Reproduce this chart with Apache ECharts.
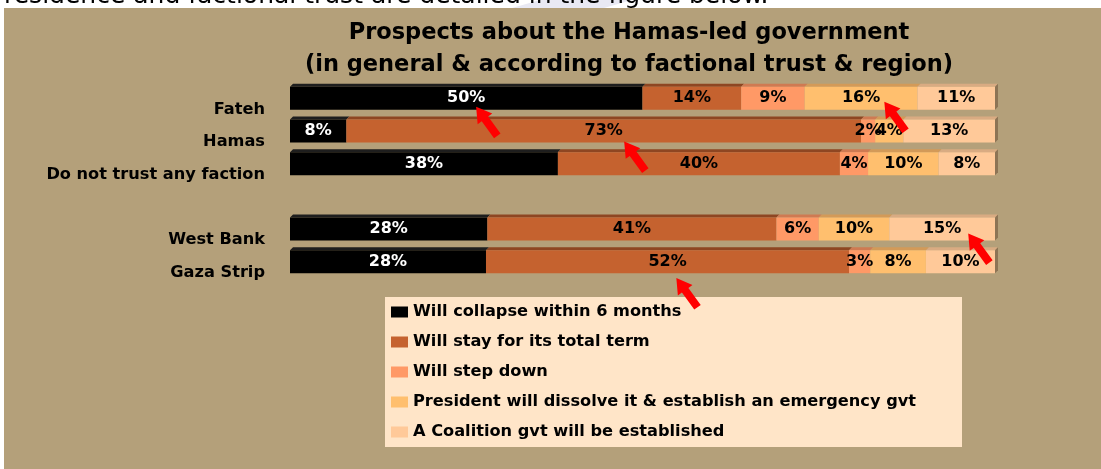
<!DOCTYPE html>
<html>
<head>
<meta charset="utf-8">
<title>Prospects about the Hamas-led government</title>
<script src="https://cdn.jsdelivr.net/npm/echarts@6/dist/echarts.min.js"></script>
<style>
  html, body { margin: 0; padding: 0; background: #ffffff; }
  #chart { width: 1101px; height: 469px; }
</style>
</head>
<body>
<div id="chart"></div>
<script>
// categories (blank one is the gap between trust and region groups)
const categories = ['Fateh', 'Hamas', 'Do not trust any faction', '', 'West Bank', 'Gaza Strip']

const seriesNames = [
  'Will collapse within 6 months',
  'Will stay for its total term',
  'Will step down',
  'President will dissolve it & establish an emergency gvt',
  'A Coalition gvt will be established',
]

// percentages
const collapse  = [50, 8, 38, null, 28, 27.8]
const stay      = [14, 73, 40, null, 41, 51.5]
const stepDown  = [9, 2, 4, null, 6, 3.0]
const dissolve  = [16, 4, 10, null, 10, 7.9]
const coalition = [11, 13, 8, null, 15, 9.8]

const allValues = [collapse, stay, stepDown, dissolve, coalition]

const colors = ['#000000', '#c5622f', '#ff9966', '#ffbf6e', '#ffc999']
const topShade = ['#1e1e1e', '#8e4622', '#cf7a52', '#d39a58', '#d9ab82']
const labelColors = ['#ffffff', '#000000', '#000000', '#000000', '#000000']

const FONT = '"DejaVu Sans", "Liberation Sans", Arial, sans-serif'
const BAR_H = 23

// red annotation arrows: [x value, category, extra y offset in px]
const arrows = [
  [27.9, 'Fateh', 23],
  [85.8, 'Fateh', 18],
  [48.9, 'Hamas', 25],
  [97.7, 'West Bank', 19],
  [56.3, 'Gaza Strip', 31],
]
const arrowPath = 'path://M9,0 L18,15 L13,15 L13,36 L5,36 L5,15 L0,15 Z'

const chart = echarts.init(document.getElementById('chart'))

const barSeries = allValues.map((arr, k) => ({
  name: seriesNames[k],
  type: 'bar',
  stack: 'total',
  barWidth: BAR_H,
  data: arr,
  itemStyle: { color: colors[k] },
  label: {
    show: true,
    position: 'inside',
    color: labelColors[k],
    fontFamily: FONT,
    fontWeight: 'bold',
    fontSize: 16,
    formatter: (p) => Math.round(p.value) + '%',
  },
  z: 3,
}))

barSeries[0].markPoint = {
  symbol: arrowPath,
  symbolSize: [18, 36],
  symbolRotate: 36,
  itemStyle: { color: '#ff0000' },
  label: { show: false },
  z: 10,
  data: arrows.map(a => ({ coord: [a[0], a[1]], symbolOffset: [0, a[2]] })),
}

// 3D-ish top face and right end face drawn like the old Excel bars
const bevelSeries = {
  name: 'bevel',
  type: 'custom',
  silent: true,
  encode: { x: 0, y: 1 },
  data: categories.map((c, i) => [0, i]).filter(d => collapse[d[1]] != null),
  renderItem: (params, api) => {
    const i = api.value(1)
    const cy = api.coord([0, i])[1]
    const yTop = cy - BAR_H / 2
    const yBot = cy + BAR_H / 2
    const d = 3
    let acc = 0
    const children = []
    allValues.forEach((arr, k) => {
      const v = arr[i]
      if (v == null) return
      const x0 = api.coord([acc, i])[0]
      acc += v
      const x1 = api.coord([acc, i])[0]
      children.push({
        type: 'polygon',
        shape: { points: [[x0, yTop], [x1, yTop], [x1 + d, yTop - d], [x0 + d, yTop - d]] },
        style: { fill: topShade[k] },
      })
    })
    const xe = api.coord([acc, i])[0]
    children.push({
      type: 'polygon',
      shape: { points: [[xe, yTop], [xe + d, yTop - d], [xe + d, yBot - d], [xe, yBot]] },
      style: { fill: '#8d7455' },
    })
    return { type: 'group', children }
  },
  z: 2,
}

const option = {
  backgroundColor: '#ffffff',
  animation: false,
  graphic: [
    {
      type: 'polygon',
      shape: { points: [[512, 8], [540, 0], [632, 0], [604, 8]] },
      style: { fill: '#e9e9f3' },
      z: -95,
    },
    {
      type: 'text',
      left: 4,
      top: -16,
      z: -90,
      style: {
        text: 'residence and factional trust are detailed in the figure below.',
        fill: '#000000',
        font: '25px ' + FONT,
      },
    },
    {
      type: 'rect',
      shape: { x: 4, y: 8, width: 1097, height: 461 },
      style: { fill: '#b4a07a' },
      z: -80,
    },
    {
      type: 'rect',
      shape: { x: 385, y: 297, width: 577, height: 150 },
      style: { fill: '#ffe5c8' },
      z: -70,
    },
  ],
  title: {
    text: 'Prospects about the Hamas-led government\n(in general & according to factional trust & region)',
    left: 624,
    top: 12,
    textAlign: 'center',
    textStyle: {
      fontFamily: FONT,
      fontWeight: 'bold',
      fontSize: 22.5,
      lineHeight: 32,
      color: '#000000',
    },
  },
  legend: {
    data: seriesNames,
    orient: 'vertical',
    left: 391,
    top: 303,
    padding: 0,
    itemGap: 12,
    itemWidth: 17,
    itemHeight: 11,
    icon: 'rect',
    selectedMode: false,
    textStyle: {
      fontFamily: FONT,
      fontWeight: 'bold',
      fontSize: 16.2,
      lineHeight: 18,
      color: '#000000',
    },
  },
  grid: {
    left: 290,
    right: 106,
    top: 82,
    height: 196,
    containLabel: false,
  },
  xAxis: {
    type: 'value',
    min: 0,
    max: 100,
    show: false,
  },
  yAxis: {
    type: 'category',
    inverse: true,
    data: categories,
    axisLine: { show: false },
    axisTick: { show: false },
    axisLabel: {
      margin: 25,
      color: '#000000',
      fontFamily: FONT,
      fontWeight: 'bold',
      fontSize: 16.2,
      verticalAlign: 'top',
      lineHeight: 22,
    },
  },
  series: [bevelSeries, ...barSeries],
}

chart.setOption(option)
window.addEventListener('resize', () => chart.resize())
</script>
</body>
</html>
